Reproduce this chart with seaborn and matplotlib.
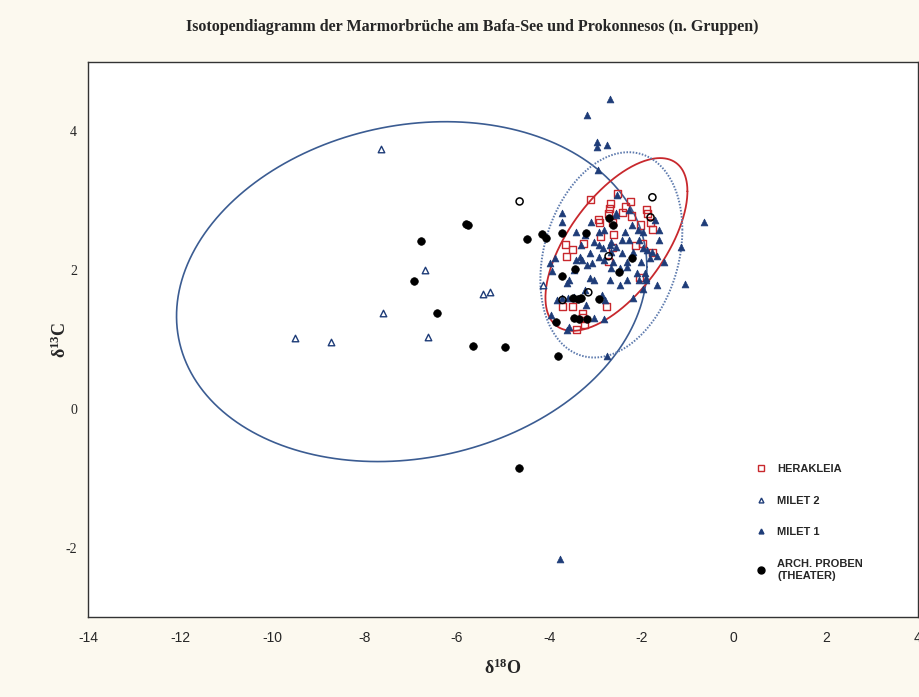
import numpy as np
import pandas as pd
import matplotlib
matplotlib.use("Agg")
import matplotlib.pyplot as plt
import seaborn as sns

# ---------------- data (delta18O, delta13C) ----------------
milet1_x = [-2.67, -3.17, -2.97, -2.97, -2.75, -2.95, -0.65, -1.06, -1.65, -1.97,
            -2.19, -1.89, -1.15, -1.61, -1.65, -3.77, -2.75, -2.80, -3.56, -3.73,
            -3.10, -2.54, -3.30, -3.02, -2.91, -2.84, -3.88, -3.34, -2.65, -2.69,
            -2.54, -2.91, -2.80, -2.62, -3.06, -3.41, -3.28, -2.52, -2.54, -2.21,
            -2.08, -1.97, -2.26, -2.04, -1.97, -1.87, -1.82, -2.19, -2.41, -2.32,
            -2.00, -2.65, -3.93, -3.56, -3.12, -3.02, -3.17, -2.65, -3.19, -3.60,
            -3.73, -2.86, -3.97, -3.12, -3.45, -3.62, -2.47, -2.32, -2.10, -1.93,
            -1.89, -1.76, -3.73, -3.23, -2.36, -2.91, -2.26, -1.61, -1.50, -3.82,
            -3.45, -3.02, -2.78, -2.47, -2.30, -2.04, -2.69, -3.62, -3.95, -3.23,
            -2.41, -1.71, -2.80, -3.41]
milet1_y = [4.46, 4.23, 3.84, 3.77, 3.81, 3.44, 2.69, 1.80, 1.78, 1.73,
            1.60, 1.86, 2.33, 2.58, 2.20, -2.17, 0.76, 1.29, 1.18, 2.69,
            2.69, 2.79, 2.36, 2.40, 2.36, 2.32, 2.17, 2.19, 2.26, 2.36,
            2.33, 2.19, 2.14, 2.12, 2.10, 2.14, 2.14, 3.08, 2.82, 2.65,
            2.58, 2.55, 2.43, 2.43, 2.32, 2.29, 2.17, 2.26, 2.24, 2.12,
            2.12, 2.40, 1.99, 1.86, 1.88, 1.86, 2.07, 2.03, 1.50, 1.60,
            1.60, 1.64, 2.10, 2.24, 2.00, 1.81, 2.03, 2.04, 1.96, 1.96,
            1.88, 2.26, 2.83, 2.50, 2.55, 2.55, 2.86, 2.43, 2.12, 1.57,
            1.61, 1.31, 1.57, 1.78, 1.86, 1.86, 1.86, 1.14, 1.35, 1.71,
            2.43, 2.72, 2.58, 2.55]

milet2_x = [-7.64, -6.70, -7.61, -9.52, -8.74, -6.62, -5.44, -5.29, -4.14]
milet2_y = [3.74, 2.00, 1.38, 1.02, 0.96, 1.04, 1.65, 1.68, 1.78]

herakleia_x = [-3.10, -2.67, -2.69, -2.71, -2.93, -2.91, -2.62, -2.60, -3.25, -3.64,
               -3.49, -3.62, -2.52, -2.34, -2.23, -2.41, -2.21, -1.89, -1.87, -1.80,
               -1.76, -2.02, -2.13, -1.76, -1.97, -2.62, -3.71, -3.49, -3.28, -3.28,
               -3.23, -3.41, -2.75, -2.72, -2.89, -2.04]
herakleia_y = [3.02, 2.96, 2.89, 2.82, 2.73, 2.69, 2.69, 2.52, 2.39, 2.37,
               2.30, 2.19, 3.11, 2.91, 2.99, 2.83, 2.78, 2.88, 2.82, 2.68,
               2.59, 2.65, 2.35, 2.26, 2.39, 2.33, 1.47, 1.47, 1.38, 1.31,
               1.21, 1.14, 1.47, 2.12, 2.49, 1.90]

arch_x = [-6.77, -6.94, -6.44, -5.81, -5.75, -5.64, -4.95, -4.49, -4.16, -4.06,
          -4.66, -3.80, -3.84, -3.71, -3.19, -2.71, -2.62, -2.21, -3.43, -3.71,
          -3.49, -3.38, -3.30, -2.91, -3.47, -3.36, -3.17, -2.49]
arch_y = [2.42, 1.84, 1.38, 2.66, 2.65, 0.91, 0.89, 2.45, 2.52, 2.46,
          -0.85, 0.76, 1.25, 2.53, 2.53, 2.75, 2.65, 2.17, 2.01, 1.91,
          1.60, 1.58, 1.60, 1.58, 1.31, 1.29, 1.29, 1.98]

open_x = [-4.64, -1.76, -1.80, -2.71, -3.15, -3.71]
open_y = [2.99, 3.05, 2.76, 2.20, 1.68, 1.57]

# ellipse parameters: centre and covariance-type matrix entries
ell_names = ["Milet 2", "Herakleia", "Milet 1"]
ell_cx = [-6.98, -2.54, -2.65]
ell_cy = [1.69, 2.37, 2.22]
ell_sxx = [26.01, 2.37, 2.37]
ell_syy = [6.00, 1.55, 2.19]
ell_sxy = [1.80, 1.18, 0.55]

legend_labels = ["HERAKLEIA", "MILET 2", "MILET 1", "ARCH. PROBEN\n(THEATER)"]
x_ticks = [-14, -12, -10, -8, -6, -4, -2, 0, 2, 4]
y_ticks = [-2, 0, 2, 4]

# ---------------- figure ----------------
sns.set_style("white")
plt.rcParams["font.family"] = ["Liberation Serif", "DejaVu Serif"]
plt.rcParams["mathtext.fontset"] = "custom"
plt.rcParams["mathtext.rm"] = "Liberation Serif:bold"
plt.rcParams["mathtext.bf"] = "Liberation Serif:bold"
plt.rcParams["mathtext.it"] = "Liberation Serif:bold"

BG = "#FCF9EF"
NAVY = "#1E3C78"
RED = "#C8282D"

fig = plt.figure(figsize=(9.19, 6.97), dpi=100, facecolor=BG)
ax = fig.add_axes([88 / 919, 1 - 617 / 697, 830 / 919, (617 - 62) / 697])
ax.set_facecolor("white")

# ellipses
t = np.linspace(0, 2 * np.pi, 400)
ell_styles = [dict(color="#3B5C92", lw=1.2, ls="-"),
              dict(color=RED, lw=1.3, ls="-"),
              dict(color="#5E7BAE", lw=1.4, ls=(0, (0.8, 0.8)))]
for cx, cy, sxx, syy, sxy, st in zip(ell_cx, ell_cy, ell_sxx, ell_syy, ell_sxy, ell_styles):
    L = np.linalg.cholesky(np.array([[sxx, sxy], [sxy, syy]]))
    pts = L @ np.vstack([np.cos(t), np.sin(t)])
    ax.plot(cx + pts[0], cy + pts[1], zorder=2, **st)

df_m1 = pd.DataFrame({"x": milet1_x, "y": milet1_y})
df_m2 = pd.DataFrame({"x": milet2_x, "y": milet2_y})
df_h = pd.DataFrame({"x": herakleia_x, "y": herakleia_y})
df_a = pd.DataFrame({"x": arch_x, "y": arch_y})
df_o = pd.DataFrame({"x": open_x, "y": open_y})

sns.scatterplot(data=df_h, x="x", y="y", ax=ax, marker="s", s=26,
                facecolor="none", edgecolor=RED, linewidth=1.0, zorder=3)
sns.scatterplot(data=df_m2, x="x", y="y", ax=ax, marker="^", s=22,
                facecolor="white", edgecolor=NAVY, linewidth=1.0, zorder=4)
sns.scatterplot(data=df_m1, x="x", y="y", ax=ax, marker="^", s=24,
                color=NAVY, edgecolor=NAVY, linewidth=0.5, zorder=4)
sns.scatterplot(data=df_a, x="x", y="y", ax=ax, marker="o", s=30,
                color="black", edgecolor="black", linewidth=0.5, zorder=5)
sns.scatterplot(data=df_o, x="x", y="y", ax=ax, marker="o", s=26,
                facecolor="none", edgecolor="black", linewidth=1.1, zorder=5)

# legend
from matplotlib.lines import Line2D
handles = [
    Line2D([], [], ls="none", marker="s", ms=4, mfc="none", mec=RED, mew=1.0),
    Line2D([], [], ls="none", marker="^", ms=3.5, mfc="white", mec=NAVY, mew=1.0),
    Line2D([], [], ls="none", marker="^", ms=3.5, mfc=NAVY, mec=NAVY),
    Line2D([], [], ls="none", marker="o", ms=5, mfc="black", mec="black"),
]
leg = ax.legend(handles, legend_labels, loc="upper left",
                bbox_to_anchor=((745 - 88) / 830, (617 - 454) / 555),
                frameon=False, handlelength=1.0, handletextpad=1.0,
                labelspacing=1.95,
                prop={"family": ["Liberation Sans", "DejaVu Sans"],
                      "weight": "bold", "size": 8})

ax.set_xlim(-14, 4)
ax.set_ylim(-3, 5)
ax.set_xticks(x_ticks)
ax.set_yticks(y_ticks)
ax.set_xticks(np.arange(-13, 4, 2), minor=True)
ax.set_yticks(np.arange(-3, 5, 2), minor=True)
ax.set_xticklabels([str(v) for v in x_ticks],
                   fontfamily=["Liberation Sans Narrow", "Liberation Sans"], fontsize=10)
ax.set_yticklabels([str(v) for v in y_ticks],
                   fontfamily=["Liberation Serif"], fontsize=10)
ax.tick_params(which="both", direction="in", length=3, width=0.8, color="#333333",
               top=False, right=False)
ax.tick_params(axis="x", which="major", pad=10)
ax.tick_params(axis="y", which="major", pad=8)
for sp in ax.spines.values():
    sp.set_color("#333333")
    sp.set_linewidth(1.0)
    sp.set_visible(True)

ax.set_xlabel(r"$\mathbf{\delta^{18}O}$", fontsize=13, labelpad=10)
ax.set_ylabel(r"$\mathbf{\delta^{13}C}$", fontsize=13)
ax.yaxis.set_label_coords((70 - 88) / 830, 0.5)

fig.text(472 / 919, 1 - 27 / 697,
         "Isotopendiagramm der Marmorbrüche am Bafa-See und Prokonnesos (n. Gruppen)",
         ha="center", va="center", fontsize=11.5, fontweight="bold",
         fontfamily=["Liberation Serif", "DejaVu Serif"])

fig.savefig("out.png", dpi=100, facecolor=BG)
